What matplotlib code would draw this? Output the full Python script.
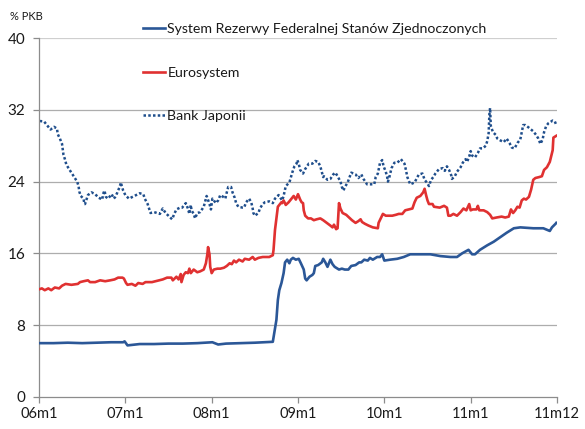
import matplotlib
matplotlib.use("Agg")
import matplotlib.pyplot as plt

# months since 2006m1
fed_x = [0.0, 2.0, 4.0, 6.0, 8.0, 10.0, 11.7, 11.9, 12.3, 14.0, 16.0, 18.0, 20.0, 22.0,
         24.1, 24.9, 26.0, 28.0, 30.0, 32.5, 33.0, 33.2, 33.4, 33.7, 34.0, 34.2, 34.5,
         34.8, 35.0, 35.3, 35.7, 36.1, 36.4, 36.8, 37.0, 37.2, 37.6, 38.0, 38.2, 38.4,
         38.8, 39.3, 39.5, 39.8, 40.1, 40.5, 40.8, 41.1, 41.7, 42.1, 42.5, 43.0, 43.4,
         44.0, 44.5, 44.8, 45.2, 45.7, 46.0, 46.4, 47.0, 47.4, 47.7, 48.0, 48.8, 49.8,
         50.7, 51.6, 52.5, 53.4, 54.4, 55.8, 57.2, 58.1, 58.8, 59.7, 60.2, 60.6, 61.3,
         62.3, 63.2, 64.1, 65.0, 66.0, 66.9, 68.7, 70.1, 71.0, 71.3, 71.8, 71.9]
fed_y = [6.0, 6.0, 6.05, 6.0, 6.05, 6.1, 6.1, 6.2, 5.75, 5.9, 5.9, 5.95, 5.95, 6.0,
         6.1, 5.85, 5.95, 6.0, 6.05, 6.15, 8.6, 10.8, 11.9, 12.7, 13.8, 15.0, 15.3,
         14.9, 15.3, 15.5, 15.3, 15.4, 14.9, 14.2, 13.2, 13.0, 13.4, 13.6, 13.8, 14.6,
         14.7, 15.0, 15.4, 15.0, 14.5, 15.3, 14.8, 14.5, 14.2, 14.3, 14.2, 14.2, 14.6,
         14.7, 15.0, 15.0, 15.3, 15.2, 15.5, 15.3, 15.6, 15.6, 15.9, 15.2, 15.3, 15.4,
         15.6, 15.9, 15.9, 15.9, 15.9, 15.7, 15.6, 15.6, 16.0, 16.4, 15.9, 15.9, 16.4,
         16.9, 17.3, 17.8, 18.3, 18.8, 18.9, 18.8, 18.8, 18.5, 18.9, 19.3, 19.4]

euro_x = [0.0, 0.4, 0.8, 1.3, 1.7, 2.2, 2.8, 3.2, 3.7, 4.5, 5.4, 5.7, 6.2, 6.8, 7.1,
          7.8, 8.5, 9.2, 9.9, 10.5, 11.0, 11.6, 11.8, 12.1, 12.3, 12.9, 13.4, 13.8,
          14.4, 14.8, 15.7, 16.2, 16.7, 17.2, 17.8, 18.1, 18.4, 18.6, 19.1, 19.4,
          19.7, 19.8, 20.1, 20.4, 20.7, 20.9, 21.1, 21.5, 22.0, 22.4, 22.9, 23.2,
          23.4, 23.5, 23.7, 23.8, 24.0, 24.3, 24.8, 25.2, 25.7, 26.1, 26.5, 26.8,
          27.1, 27.4, 27.8, 28.3, 28.6, 29.2, 29.7, 30.0, 30.5, 31.1, 31.5, 32.0,
          32.5, 32.6, 32.7, 32.8, 33.0, 33.2, 33.4, 33.7, 33.8, 34.0, 34.3, 34.7,
          35.1, 35.4, 35.7, 36.0, 36.3, 36.5, 36.7, 36.8, 37.0, 37.4, 37.8, 38.2,
          38.6, 39.1, 39.5, 40.0, 40.5, 40.8, 41.0, 41.3, 41.5, 41.7, 41.9, 42.2,
          42.7, 43.1, 43.5, 44.0, 44.4, 44.7, 44.9, 45.3, 45.8, 46.4, 47.1, 47.2,
          47.5, 47.8, 48.2, 48.6, 49.1, 49.6, 50.0, 50.5, 50.9, 51.4, 51.9, 52.2,
          52.5, 53.0, 53.4, 53.6, 53.8, 54.0, 54.2, 54.7, 54.9, 55.7, 56.3, 56.7,
          56.9, 57.2, 57.6, 58.1, 58.6, 59.0, 59.4, 59.8, 60.0, 60.3, 60.8, 61.0,
          61.2, 61.8, 62.3, 62.7, 63.0, 63.6, 64.3, 64.8, 65.3, 65.6, 65.9, 66.2,
          66.5, 66.8, 67.1, 67.4, 67.7, 68.1, 68.4, 68.7, 69.0, 69.5, 69.9, 70.2,
          70.6, 71.0, 71.4, 71.5, 71.9]
euro_y = [12.0, 12.1, 11.9, 12.1, 11.9, 12.2, 12.1, 12.4, 12.6, 12.5, 12.6, 12.8, 12.9,
          13.0, 12.8, 12.8, 13.0, 12.9, 13.0, 13.1, 13.3, 13.3, 13.2, 12.7, 12.5, 12.6,
          12.4, 12.7, 12.6, 12.8, 12.8, 12.9, 13.0, 13.1, 13.3, 13.3, 13.3, 13.0, 13.4,
          13.1, 13.7, 12.8, 13.6, 13.9, 13.8, 14.3, 13.8, 14.2, 13.9, 14.0, 14.2, 14.9,
          15.9, 16.7, 15.9, 14.5, 13.8, 14.2, 14.3, 14.3, 14.4, 14.6, 14.9, 14.8, 15.2,
          15.0, 15.3, 15.1, 15.4, 15.3, 15.6, 15.3, 15.5, 15.6, 15.6, 15.6, 15.8, 16.4,
          17.5, 18.6, 19.9, 21.2, 21.4, 21.7, 21.6, 21.9, 21.4, 21.7, 22.1, 22.4, 22.0,
          22.6, 22.0, 21.7, 21.6, 20.8, 20.2, 19.9, 19.9, 19.7, 19.8, 19.9, 19.7, 19.4,
          19.1, 18.9, 19.2, 18.7, 18.8, 21.6, 21.0, 20.5, 20.3, 20.0, 19.7, 19.4, 19.6,
          19.8, 19.5, 19.3, 19.1, 18.9, 18.8, 19.4, 19.9, 20.4, 20.2, 20.2, 20.2, 20.3,
          20.4, 20.4, 20.8, 20.9, 21.0, 21.7, 22.2, 22.4, 22.8, 23.2, 22.5, 21.9, 21.5,
          21.5, 21.2, 21.1, 21.3, 21.1, 20.2, 20.2, 20.4, 20.2, 20.6, 21.0, 20.8, 21.5,
          20.8, 20.9, 20.9, 21.3, 20.8, 20.8, 20.6, 20.3, 19.9, 20.0, 20.1, 20.0, 20.1,
          20.9, 20.5, 20.8, 21.2, 21.1, 21.9, 22.1, 22.0, 22.3, 23.1, 24.2, 24.4, 24.5,
          24.6, 25.3, 25.6, 26.2, 27.5, 28.9, 29.1]

boj_x = [0.1, 0.7, 1.2, 1.6, 2.1, 2.5, 2.6, 2.9, 3.2, 3.3, 3.4, 3.6, 3.8, 4.1, 4.5,
         4.9, 5.3, 5.5, 5.6, 5.8, 6.2, 6.3, 6.4, 6.6, 6.8, 7.3, 7.8, 8.3, 8.8, 8.9,
         9.1, 9.3, 9.6, 10.1, 10.4, 10.6, 10.9, 11.2, 11.4, 11.5, 11.7, 12.0, 12.5,
         13.0, 13.5, 14.0, 14.5, 14.7, 15.1, 15.3, 15.5, 16.0, 16.8, 17.2, 17.6, 18.5,
         18.8, 19.1, 19.6, 19.9, 20.4, 20.7, 20.9, 21.1, 21.2, 21.5, 21.7, 22.0, 22.4,
         22.9, 23.1, 23.3, 23.7, 23.9, 24.1, 24.6, 24.9, 25.2, 25.6, 25.9, 26.1, 26.3,
         26.7, 26.9, 27.2, 27.4, 27.7, 28.3, 28.5, 28.8, 29.2, 29.5, 29.7, 29.8, 30.0,
         30.5, 30.7, 31.1, 31.4, 32.0, 32.5, 32.8, 33.3, 33.8, 34.0, 34.3, 34.8, 35.2,
         35.5, 35.8, 35.9, 36.1, 36.3, 36.7, 37.0, 37.5, 38.0, 38.4, 38.8, 39.1, 39.3,
         39.5, 39.6, 40.1, 40.5, 40.9, 41.2, 41.5, 41.9, 42.1, 42.3, 42.6, 42.9, 43.4,
         44.0, 44.4, 44.8, 45.1, 45.6, 46.0, 46.6, 46.8, 47.1, 47.3, 47.4, 47.7, 47.9,
         48.2, 48.4, 48.5, 48.7, 49.0, 49.4, 49.8, 50.3, 50.8, 51.0, 51.2, 51.6, 52.2,
         52.8, 53.3, 53.6, 54.0, 54.2, 54.5, 54.8, 55.1, 55.6, 56.1, 56.4, 56.7, 57.0,
         57.3, 57.4, 57.8, 58.1, 58.6, 58.9, 59.3, 59.5, 59.8, 60.0, 60.2, 60.6, 61.0,
         61.3, 61.7, 62.1, 62.3, 62.5, 62.6, 62.7, 62.8, 63.1, 63.5, 63.7, 64.1, 64.6,
         65.0, 65.4, 65.7, 66.1, 66.5, 66.9, 67.1, 67.3, 67.6, 68.1, 68.7, 69.1, 69.4,
         69.7, 70.0, 70.2, 70.5, 70.8, 71.2, 71.4, 71.7, 71.9]
boj_y = [30.75, 30.7, 30.2, 29.8, 30.1, 29.9, 29.3, 28.8, 28.2, 27.6, 27.0, 26.5, 25.9,
         25.5, 25.0, 24.5, 24.0, 23.5, 22.9, 22.4, 22.1, 21.5, 21.5, 22.0, 22.5, 22.8,
         22.6, 22.2, 22.0, 22.6, 23.0, 22.3, 22.1, 22.6, 22.1, 22.3, 22.8, 23.4, 23.9,
         23.5, 23.0, 22.5, 22.1, 22.3, 22.5, 22.7, 22.6, 22.1, 21.5, 21.0, 20.5, 20.6,
         20.4, 21.0, 20.5, 19.8, 20.4, 20.9, 21.1, 21.1, 21.6, 21.0, 20.4, 21.4, 20.8,
         20.4, 19.9, 20.5, 20.6, 21.2, 21.8, 22.4, 21.5, 20.9, 22.1, 21.6, 21.9, 22.5,
         22.3, 22.1, 22.8, 23.4, 23.4, 22.8, 22.2, 21.6, 21.2, 21.1, 21.1, 21.7, 22.1,
         21.7, 21.0, 20.5, 20.2, 20.5, 21.0, 21.5, 21.7, 21.8, 21.6, 22.1, 22.5, 21.9,
         22.4, 23.5, 23.9, 25.0, 25.7, 26.0, 26.4, 26.0, 25.3, 24.9, 25.4, 26.0, 26.0,
         26.3, 26.2, 25.7, 25.1, 24.5, 24.6, 24.2, 24.3, 24.8, 25.0, 24.6, 24.0, 23.4,
         23.0, 23.5, 23.9, 25.0, 24.8, 24.4, 24.8, 24.3, 23.7, 23.7, 23.7, 24.5, 24.9,
         25.7, 26.1, 26.4, 25.7, 25.1, 24.5, 24.0, 24.5, 25.5, 26.1, 26.1, 26.5, 26.0,
         25.3, 24.5, 23.7, 23.9, 24.8, 24.9, 24.2, 23.8, 23.5, 24.2, 24.5, 24.9, 25.4,
         25.5, 25.2, 25.7, 25.3, 24.7, 24.3, 24.6, 25.1, 25.6, 26.1, 26.5, 26.2, 26.8,
         27.4, 26.9, 26.7, 27.2, 27.7, 27.7, 28.0, 28.5, 29.4, 31.5, 32.2, 30.2, 29.5,
         29.2, 28.8, 28.6, 28.4, 28.8, 28.3, 27.8, 27.7, 28.3, 28.7, 29.5, 30.3, 30.3,
         30.0, 29.6, 29.2, 28.8, 28.2, 28.7, 29.5, 30.2, 30.5, 30.7, 30.8, 30.7, 30.3]

tick_pos = [0, 12, 24, 36, 48, 60, 72]
tick_labels = ["06m1", "07m1", "08m1", "09m1", "10m1", "11m1", "11m12"]
y_ticks = [0, 8, 16, 24, 32, 40]
labels = ["System Rezerwy Federalnej Stanów Zjednoczonych", "Eurosystem", "Bank Japonii"]

plt.rcParams['font.family'] = ['Lato', 'DejaVu Sans']

fig = plt.figure(figsize=(5.85, 4.29), dpi=100)
ax = fig.add_axes([39/585, 1-397/429, (557-39)/585, (397-38)/429])

grid_c = "#ADADAD"
for v in y_ticks[1:]:
    ax.axhline(v, color=grid_c if v < 40 else "#CFCFCF", lw=0.9 if v < 40 else 1.6, zorder=1)

l1, = ax.plot(fed_x, fed_y, color="#2B5797", lw=1.9, zorder=4, solid_joinstyle="round")
l2, = ax.plot(euro_x, euro_y, color="#E03131", lw=1.9, zorder=3, solid_joinstyle="round")
l3, = ax.plot(boj_x, boj_y, color="#1F4E8C", lw=1.8, linestyle=(0, (1, 0.9)), zorder=2)

ax.set_xlim(0, 72)
ax.set_ylim(0, 40)
ax.set_xticks(tick_pos)
ax.set_xticklabels(tick_labels, fontsize=10.5)
ax.set_yticks(y_ticks)
ax.set_yticklabels([str(v) for v in y_ticks], fontsize=11)
for s in ["top", "right"]:
    ax.spines[s].set_visible(False)
for s in ["left", "bottom"]:
    ax.spines[s].set_color("#8C8C8C")
    ax.spines[s].set_linewidth(0.9)
ax.tick_params(axis="both", colors="#8C8C8C", labelcolor="#1a1a1a", length=4, width=0.9)
ax.tick_params(axis="y", pad=6)
ax.tick_params(axis="x", pad=3)

fig.text(10/585, 1-16/429, "% PKB", fontsize=8, va="center", ha="left", color="#1a1a1a")

leg = fig.legend([l1, l2, l3], labels, loc="upper left",
                 bbox_to_anchor=(137/585, 1-17/429), frameon=False, fontsize=10.2,
                 handlelength=1.6, handletextpad=0.15, labelspacing=2.25, borderaxespad=0)
for t in leg.get_texts():
    t.set_color("#1a1a1a")

fig.savefig("out.png", dpi=100)
